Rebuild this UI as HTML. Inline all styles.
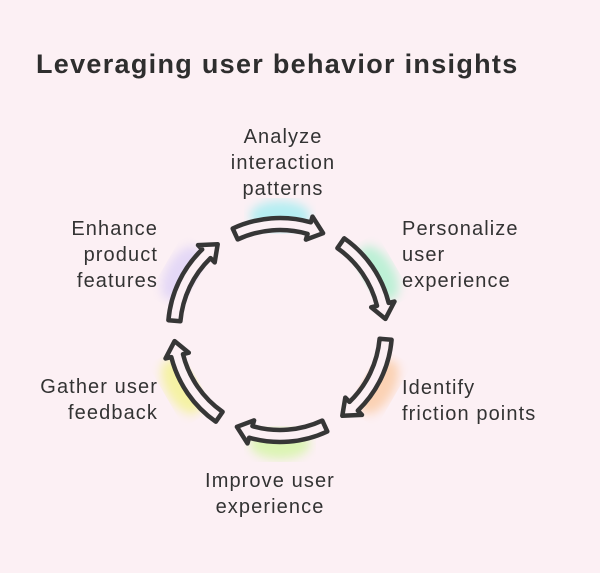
<!DOCTYPE html>
<html><head><meta charset="utf-8"><style>
html,body{margin:0;padding:0;}
body{width:600px;height:573px;background:#fcf0f4;position:relative;overflow:hidden;font-family:"Liberation Sans",sans-serif;color:#333;}
.t{position:absolute;left:36px;top:49px;font-size:27px;font-weight:bold;color:#2e2e2e;letter-spacing:1.3px;}
.l{position:absolute;font-size:20px;line-height:26px;color:#333;letter-spacing:1.1px;}
svg{position:absolute;left:0;top:0;}
</style></head><body>
<div class="t">Leveraging user behavior insights</div>
<svg id="s" width="600" height="573"><defs><filter id="b"><feGaussianBlur stdDeviation="5"/></filter></defs></svg>
<div class="l" style="left:183px;width:200px;top:124px;text-align:center">Analyze<br>interaction<br>patterns</div>
<div class="l" style="left:402px;top:216px">Personalize<br>user<br>experience</div>
<div class="l" style="left:402px;top:375px">Identify<br>friction points</div>
<div class="l" style="left:170px;width:200px;top:468px;text-align:center">Improve user<br>experience</div>
<div class="l" style="left:0;width:158px;top:374px;text-align:right">Gather user<br>feedback</div>
<div class="l" style="left:0;width:158px;top:216px;text-align:right">Enhance<br>product<br>features</div>
<script>
var s=document.getElementById('s'),cx=280,cy=330,r=106;
var cols=['#b5eef2','#bdf0d6','#fbd2b4','#dcf4b4','#f5f2a4','#e4d8f6'];
function P(a,rr){a=a*Math.PI/180;return (cx+rr*Math.cos(a)).toFixed(1)+' '+(cy+rr*Math.sin(a)).toFixed(1);}
var h='';
for(var i=0;i<6;i++){var c=-90+60*i,a=c*Math.PI/180,x=cx+(r+8)*Math.cos(a),y=cy+(r+8)*Math.sin(a);h+='<ellipse cx="'+x+'" cy="'+y+'" rx="30" ry="15" fill="'+cols[i]+'" filter="url(#b)" transform="rotate('+(c+90)+' '+x+' '+y+')"/>';}
for(var i=0;i<6;i++){var c=-90+60*i,a0=c-25,a1=c+16,a2=c+24,ro=r+6,ri=r-6;
var d='M'+P(a0,ro)+' A'+ro+' '+ro+' 0 0 1 '+P(a1,ro)+' L'+P(a1,r+12)+' L'+P(a2,r)+' L'+P(a1,r-12)+' L'+P(a1,ri)+' A'+ri+' '+ri+' 0 0 0 '+P(a0,ri)+' Z';
h+='<path d="'+d+'" fill="#fcf0f4" stroke="#363636" stroke-width="4.5" stroke-linejoin="round"/>';}
s.innerHTML+=h;
</script>
</body></html>
